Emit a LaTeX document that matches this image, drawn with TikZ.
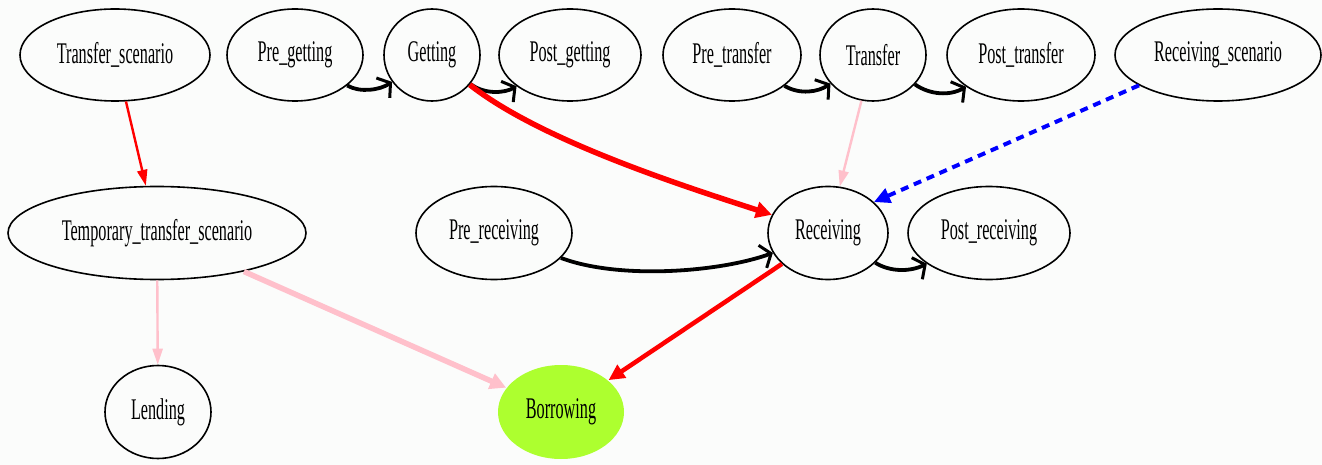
\documentclass[tikz,border=0pt]{standalone}
\usepackage{fontspec}
\setmainfont{Liberation Serif}[FakeStretch=0.54]
\usetikzlibrary{arrows.meta,shapes.geometric}
\definecolor{bgc}{RGB}{251,252,251}
\definecolor{gyc}{RGB}{173,255,47}
\definecolor{pinkc}{RGB}{255,192,203}
\begin{document}
\begin{tikzpicture}[x=1pt,y=-1pt,
  st/.style={ellipse, draw=black, line width=1.6pt, inner sep=0pt,
    font=\fontsize{30}{36}\selectfont},
  blkedge/.style={draw=black, line width=3.8pt,
    -{Straight Barb[length=9pt,width=24pt,line width=3pt]}},
  rededge/.style={draw=red, line width=2.4pt, -{Triangle[length=16pt,width=10pt]}},
  redthick/.style={draw=red, line width=5.5pt, -{Triangle[length=16pt,width=16pt]}},
  redmed/.style={draw=red, line width=4.5pt, -{Triangle[length=16pt,width=15pt]}},
  pinkthin/.style={draw=pinkc, line width=2.4pt, -{Triangle[length=16pt,width=10pt]}},
  pinkthick/.style={draw=pinkc, line width=5.5pt, -{Triangle[length=16pt,width=16pt]}},
  blueedge/.style={draw=blue, line width=4pt, dash pattern=on 8pt off 6pt,
    -{Triangle[length=16pt,width=15pt]}}]
\fill[bgc] (0,0) rectangle (1322,465);
\useasboundingbox (0,0) rectangle (1322,465);

% top row
\node[st, minimum width=190pt, minimum height=92pt] (ts) at (115,55) {Transfer\_scenario};
\node[st, minimum width=136pt, minimum height=92pt] (pg) at (295,55) {Pre\_getting};
\node[st, minimum width=96pt, minimum height=92pt] (get) at (432,55) {Getting};
\node[st, minimum width=142pt, minimum height=92pt] (pog) at (570,55) {Post\_getting};
\node[st, minimum width=138pt, minimum height=92pt] (pt) at (732,55) {Pre\_transfer};
\node[st, minimum width=106pt, minimum height=92pt] (tr) at (873,55) {Transfer};
\node[st, minimum width=148pt, minimum height=92pt] (pot) at (1021,55) {Post\_transfer};
\node[st, minimum width=206pt, minimum height=92pt] (rs) at (1218,55) {Receiving\_scenario};

% middle row
\node[st, minimum width=298pt, minimum height=93pt] (tts) at (157,233) {Temporary\_transfer\_scenario};
\node[st, minimum width=156pt, minimum height=93pt] (pr) at (494,233) {Pre\_receiving};
\node[st, minimum width=120pt, minimum height=93pt] (rec) at (828,233) {Receiving};
\node[st, minimum width=162pt, minimum height=93pt] (por) at (989,233) {Post\_receiving};

% bottom row
\node[st, minimum width=106pt, minimum height=93pt] (len) at (158,412) {Lending};
\node[st, draw=none, fill=gyc, minimum width=126pt, minimum height=94pt] (bor) at (561,412) {Borrowing};

% edges
\draw[rededge] (ts) -- (tts);
\draw[blkedge] (pg) .. controls (360,93) and (380,90) .. (get);
\draw[blkedge] (get) .. controls (485,95) and (505,93) .. (pog);
\draw[redthick] (get) .. controls (540,140) and (680,185) .. (rec);
\draw[blkedge] (pt) .. controls (800,95) and (818,92) .. (tr);
\draw[blkedge] (tr) .. controls (930,95) and (950,96) .. (pot);
\draw[pinkthin] (tr) -- (rec);
\draw[blueedge] (rs.201) -- (rec.34);
\draw[blkedge] (pr) .. controls (620,280) and (720,272) .. (rec);
\draw[blkedge] (rec) .. controls (890,272) and (910,272) .. (por);
\draw[redmed] (rec) -- (bor);
\draw[pinkthin] (tts) -- (len);
\draw[pinkthick] (tts) -- (bor);
\end{tikzpicture}
\end{document}
